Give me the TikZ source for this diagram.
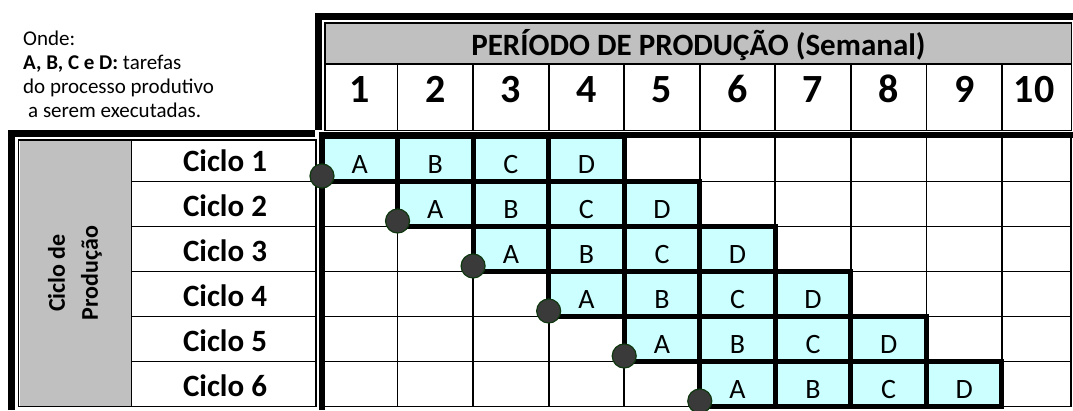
\documentclass[tikz,border=0pt]{standalone}
\usepackage{fontspec}
\setmainfont{Carlito}
\usepackage{xcolor}
\usetikzlibrary{positioning,calc}
\definecolor{headgrey}{HTML}{C0C0C0}
\definecolor{taskcyan}{HTML}{CCFFFF}
\definecolor{dotgrey}{HTML}{3A3A3A}
\definecolor{dotgreen}{HTML}{103810}

\begin{document}
\begin{tikzpicture}[x=1pt,y=-1pt,
  gridline/.style={line width=1.8pt},
  innerframe/.style={line width=1.5pt},
  frame/.style={line width=7pt},
  taskcell/.style={draw,fill=taskcyan,line width=5pt},
  titlelbl/.style={anchor=base,inner sep=0pt,font=\bfseries\fontsize{31}{37}\selectfont},
  weeklbl/.style={anchor=base,inner sep=0pt,font=\bfseries\fontsize{40}{48}\selectfont},
  ciclolbl/.style={anchor=base,inner sep=0pt,font=\bfseries\fontsize{31}{37}\selectfont},
  tasklbl/.style={anchor=base,inner sep=0pt,font=\fontsize{28}{34}\selectfont},
  legend/.style={anchor=base west,inner sep=0pt,font=\fontsize{21}{24}\selectfont},
  sidelbl/.style={rotate=90,align=center,inner sep=0pt,font=\bfseries\fontsize{24}{33}\selectfont},
  startdot/.style={circle,draw=dotgreen,fill=dotgrey,line width=1.2pt,minimum size=24pt,inner sep=0pt}]
\useasboundingbox (0,0) rectangle (1073,410);

% legend
\node[legend] (onde) at (23,45) {Onde:};
\node[legend] (legtasks) at (23,69.5) {\textbf{A, B, C e D:} tarefas};
\node[legend] (legproc) at (23,93) {do processo produtivo};
\node[legend] (legexec) at (28,117) {a serem executadas.};

% header block
\fill[headgrey] (326,24) rectangle (1071,63);
\draw[innerframe] (325,23) rectangle (1071.5,130.5);
\draw[gridline] (325,64) -- (1071.5,64);
\foreach \c in {1,...,9}
  \draw[gridline] ({322+75.55*\c},64) -- ({322+75.55*\c},130.5);
\draw[frame] (318.5,130) -- (318.5,16.5) -- (1073,16.5);
\node[titlelbl] (period) at (698.5,55) {PERÍODO DE PRODUÇÃO (Semanal)};
\foreach \c in {1,...,10}{
  \pgfmathsetmacro\cx{\c<10 ? 322+75.55*(\c-0.5) : 1034}
  \node[weeklbl] (week\c) at (\cx,102) {\c};
}

% left block
\fill[headgrey] (19.5,141) rectangle (131,405.5);
\draw[innerframe] (18.5,140) rectangle (316,406.5);
\draw[gridline] (131.5,140) -- (131.5,406.5);
\foreach \r in {1,...,5}
  \draw[gridline] (131.5,{136.5+45*\r}) -- (316,{136.5+45*\r});
\draw[frame] (11.5,410) -- (11.5,133.5) -- (315,133.5);
\node[sidelbl] (cyclehead) at (75,273) {Ciclo de\\Produção};
\foreach \r in {1,...,6}
  \node[ciclolbl] (ciclo\r) at (225,{126.5+45*\r}) {Ciclo \r};

% grid
\foreach \r in {1,...,6}
  \draw[gridline] (322,{136.5+45*\r}) -- (1071,{136.5+45*\r});
\foreach \c in {1,...,9}
  \draw[gridline] ({322+75.55*\c},135) -- ({322+75.55*\c},406.5);
\draw[gridline] (1071,135) -- (1071,406.5);

% tasks
\foreach \r in {1,...,6}{
  \foreach \t [count=\k] in {A,B,C,D}{
    \pgfmathsetmacro\xa{322+75.55*(\r+\k-2)}
    \pgfmathsetmacro\xb{\xa+75.55}
    \pgfmathsetmacro\ya{136.5+45*(\r-1)}
    \pgfmathsetmacro\yb{\ya+45}
    \draw[taskcell] (\xa,\ya) rectangle (\xb,\yb);
    \node[tasklbl] (task\r\t) at ({(\xa+\xb)/2},{\yb-8.5}) {\t};
  }
}
\draw[frame,line width=5.5pt] (322,410) -- (322,135) -- (1073,135);

% start of each cycle
\foreach \r in {1,...,6}
  \node[startdot] (start\r) at ({322+75.55*(\r-1)},{131+45*\r}) {};
\end{tikzpicture}
\end{document}
